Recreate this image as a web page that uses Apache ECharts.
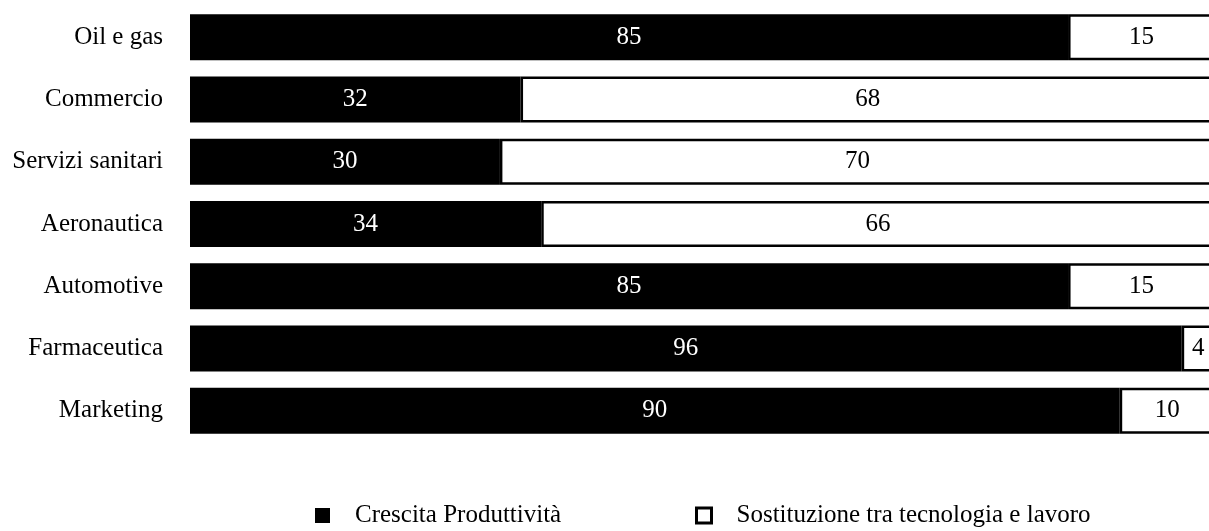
<!DOCTYPE html>
<html>
<head>
<meta charset="utf-8">
<script src="https://cdn.jsdelivr.net/npm/echarts@6/dist/echarts.min.js"></script>
<style>
  html, body { margin: 0; padding: 0; background: #fff; }
  #chart { width: 1209px; height: 531px; }
</style>
</head>
<body>
<div id="chart"></div>
<script>
// Settori, dall'alto verso il basso
const settori = ['Oil e gas', 'Commercio', 'Servizi sanitari', 'Aeronautica', 'Automotive', 'Farmaceutica', 'Marketing'];
// Quota (%) attribuita alla crescita della produttività
const crescitaProduttivita = [85, 32, 30, 34, 85, 96, 90];
// Quota (%) attribuita alla sostituzione tra tecnologia e lavoro
const sostituzione = [15, 68, 70, 66, 15, 4, 10];

const nomeCrescita = 'Crescita Produttività';
const nomeSostituzione = 'Sostituzione tra tecnologia e lavoro';
const fontSerif = '"Liberation Serif", "DejaVu Serif", serif';

const chart = echarts.init(document.getElementById('chart'), null, { renderer: 'canvas' });

chart.setOption({
  backgroundColor: '#ffffff',
  animation: false,
  // the plot runs slightly past the right edge of the canvas
  grid: { left: 190, right: -14, top: 6, bottom: 89, containLabel: false, outerBoundsMode: 'none' },
  xAxis: {
    type: 'value', min: 0, max: 100,
    show: false
  },
  yAxis: {
    type: 'category',
    data: settori,
    inverse: true,
    axisLine: { show: false },
    axisTick: { show: false },
    axisLabel: { color: '#000', fontFamily: fontSerif, fontSize: 25, margin: 27 }
  },
  legend: [
    {
      left: 315, top: 503, padding: 0,
      itemWidth: 15, itemHeight: 15,
      data: [{ name: nomeCrescita, icon: 'rect', itemStyle: { color: '#000', borderWidth: 0 } }],
      textStyle: { color: '#000', fontFamily: fontSerif, fontSize: 25, padding: [0, 0, 0, 20] }
    },
    {
      left: 695, top: 503, padding: 0,
      itemWidth: 15, itemHeight: 15,
      data: [{ name: nomeSostituzione, icon: 'rect', itemStyle: { color: '#fff', borderColor: '#000', borderWidth: 3 } }],
      textStyle: { color: '#000', fontFamily: fontSerif, fontSize: 25, padding: [0, 0, 0, 20] }
    }
  ],
  series: [
    {
      name: nomeCrescita,
      type: 'bar',
      stack: 'totale',
      barWidth: 46,
      clip: false,
      data: crescitaProduttivita,
      itemStyle: { color: '#000' },
      label: { show: true, position: 'inside', color: '#fff', fontFamily: fontSerif, fontSize: 25 }
    },
    {
      name: nomeSostituzione,
      type: 'bar',
      stack: 'totale',
      barWidth: 46,
      clip: false,
      data: sostituzione,
      itemStyle: { color: '#fff', borderColor: '#000', borderWidth: 2.5 },
      // nudged left so the small values stay inside the visible part of the bar
      label: { show: true, position: 'inside', offset: [-4, 0], color: '#000', fontFamily: fontSerif, fontSize: 25 }
    }
  ]
});
</script>
</body>
</html>
